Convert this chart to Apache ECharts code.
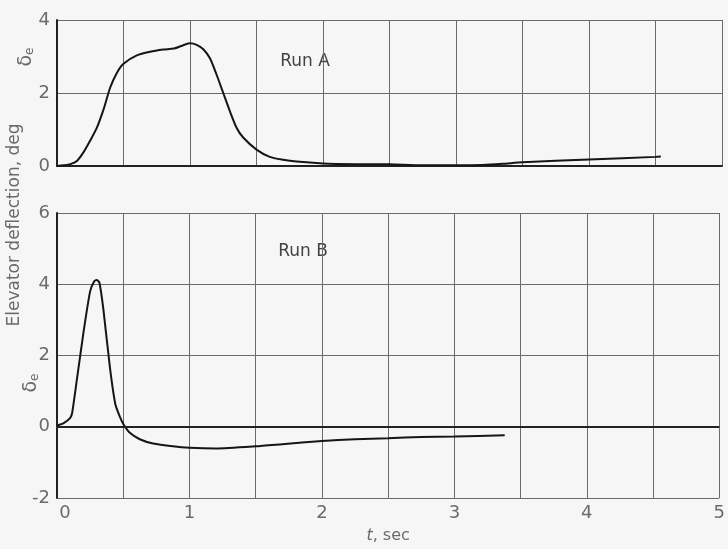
<!DOCTYPE html>
<html>
<head>
<meta charset="utf-8">
<script src="https://cdn.jsdelivr.net/npm/echarts@6/dist/echarts.min.js"></script>
<style>
  html, body { margin: 0; padding: 0; background: #f6f6f6; }
  #chart { width: 728px; height: 549px; }
</style>
</head>
<body>
<div id="chart"></div>
<script>
// Elevator deflection time histories, runs A and B
const xTicks = [0, 1, 2, 3, 4, 5];
const yTicksA = [0, 2, 4];
const yTicksB = [-2, 0, 2, 4, 6];

// Run A: time (sec) and elevator deflection (deg)
const timeA = [0, 0.05, 0.1, 0.15, 0.2, 0.25, 0.3, 0.35, 0.4, 0.45, 0.5, 0.6, 0.7, 0.8, 0.88, 0.95, 1.0, 1.05, 1.1, 1.15, 1.2, 1.25, 1.3, 1.35, 1.4, 1.5, 1.6, 1.7, 1.8, 2.0, 2.25, 2.5, 2.75, 3.0, 3.2, 3.35, 3.5, 4.0, 4.5, 4.54];
const deflA = [0, 0.02, 0.05, 0.14, 0.38, 0.70, 1.05, 1.55, 2.15, 2.55, 2.80, 3.03, 3.13, 3.19, 3.22, 3.31, 3.36, 3.32, 3.20, 2.95, 2.50, 2.00, 1.50, 1.05, 0.78, 0.45, 0.25, 0.17, 0.12, 0.07, 0.05, 0.045, 0.02, 0.02, 0.03, 0.06, 0.10, 0.18, 0.25, 0.26];

// Run B: time (sec) and elevator deflection (deg)
const timeB = [0, 0.05, 0.1, 0.115, 0.15, 0.2, 0.25, 0.28, 0.3, 0.32, 0.35, 0.4, 0.44, 0.475, 0.505, 0.55, 0.625, 0.725, 0.875, 1.0, 1.2, 1.5, 1.7, 2.0, 2.25, 2.5, 2.75, 3.0, 3.38];
const deflB = [0.03, 0.1, 0.25, 0.40, 1.32, 2.65, 3.80, 4.08, 4.12, 4.05, 3.30, 1.65, 0.64, 0.28, 0.05, -0.17, -0.35, -0.47, -0.55, -0.59, -0.61, -0.55, -0.49, -0.40, -0.35, -0.32, -0.29, -0.275, -0.24];

const pairs = (xs, ys) => xs.map((x, i) => [x, ys[i]]);

const labelColor = '#6a6a6a';
const gridColor = '#6a6a6a';
const fontFamily = '"DejaVu Sans", "Liberation Sans", sans-serif';

function xAxisFor(gridIndex, showLabels) {
  return {
    type: 'value', gridIndex, min: 0, max: 5, interval: 0.5,
    axisLine: { show: true, lineStyle: { color: showLabels ? '#777' : '#222', width: showLabels ? 1.2 : 2 } },
    axisTick: { show: false },
    splitLine: { show: true, lineStyle: { color: gridColor, width: 1 } },
    axisLabel: showLabels ? {
      show: true, margin: 6, fontSize: 18, color: labelColor, fontFamily,
      formatter: v => {
        if (!xTicks.includes(v)) return '';
        return v === 0 ? '{z|0}' : String(v);
      },
      rich: { z: { fontSize: 18, color: labelColor, fontFamily, padding: [0, 0, 0, 16] } }
    } : { show: false },
    name: showLabels ? '{i|t}, sec' : '',
    nameLocation: 'middle', nameGap: 30,
    nameTextStyle: {
      fontSize: 16, color: labelColor, fontFamily,
      rich: { i: { fontSize: 16, fontStyle: 'italic', color: labelColor, fontFamily } }
    }
  };
}

function yAxisFor(gridIndex, min, max, ticks) {
  return {
    type: 'value', gridIndex, min, max, interval: 2,
    axisLine: { show: true, lineStyle: { color: '#222', width: 2 } },
    axisTick: { show: false },
    splitLine: { show: true, lineStyle: { color: gridColor, width: 1 } },
    axisLabel: {
      margin: 7, fontSize: 18, color: labelColor, fontFamily,
      formatter: v => ticks.includes(v) ? String(v) : ''
    }
  };
}

const curveStyle = { color: '#151515', width: 2 };
const deltaRich = {
  d: { fontSize: 19, fill: labelColor, fontFamily },
  e: { fontSize: 12, fill: labelColor, fontFamily, padding: [8, 0, 0, 0] }
};

const option = {
  backgroundColor: '#f6f6f6',
  animation: false,
  grid: [
    { left: 57, top: 20, width: 665, height: 146 },
    { left: 57, top: 213, width: 665, height: 290 }
  ],
  xAxis: [xAxisFor(0, false), xAxisFor(1, true)],
  yAxis: [yAxisFor(0, 0, 4, yTicksA), yAxisFor(1, -2, 6, yTicksB)],
  series: [
    {
      name: 'Run A', type: 'line', xAxisIndex: 0, yAxisIndex: 0,
      data: pairs(timeA, deflA), smooth: 0.25, showSymbol: false,
      lineStyle: curveStyle
    },
    {
      name: 'Run B', type: 'line', xAxisIndex: 1, yAxisIndex: 1,
      data: pairs(timeB, deflB), smooth: 0.2, showSymbol: false,
      lineStyle: curveStyle,
      markLine: {
        silent: true, symbol: 'none', label: { show: false },
        lineStyle: { type: 'solid', color: '#222', width: 2 },
        data: [{ yAxis: 0 }]
      }
    }
  ],
  graphic: [
    {
      type: 'text', x: 305, y: 62,
      style: { text: 'Run A', fontSize: 17, fill: '#444', fontFamily, align: 'center', verticalAlign: 'middle' }
    },
    {
      type: 'text', x: 303, y: 252,
      style: { text: 'Run B', fontSize: 17, fill: '#444', fontFamily, align: 'center', verticalAlign: 'middle' }
    },
    {
      type: 'text', x: 15, y: 225, rotation: Math.PI / 2,
      style: { text: 'Elevator deflection, deg', fontSize: 17, fill: labelColor, fontFamily, align: 'center', verticalAlign: 'middle' }
    },
    {
      type: 'text', x: 26, y: 57, rotation: Math.PI / 2,
      style: { text: '{d|δ}{e|e}', align: 'center', verticalAlign: 'middle', rich: deltaRich }
    },
    {
      type: 'text', x: 31, y: 383, rotation: Math.PI / 2,
      style: { text: '{d|δ}{e|e}', align: 'center', verticalAlign: 'middle', rich: deltaRich }
    }
  ]
};

const chart = echarts.init(document.getElementById('chart'), null, { renderer: 'canvas' });
chart.setOption(option);
</script>
</body>
</html>
